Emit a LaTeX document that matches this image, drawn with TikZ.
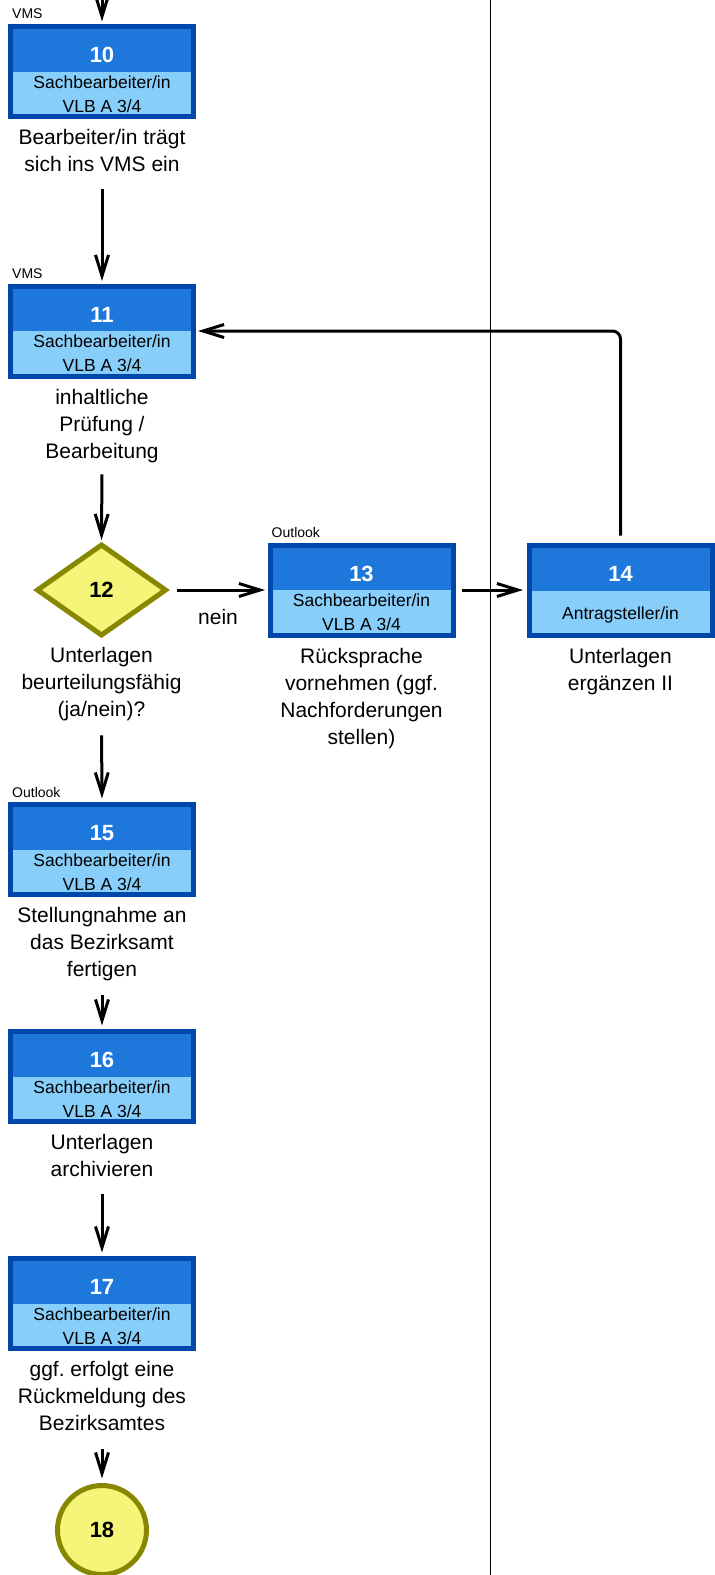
\documentclass[tikz,border=0pt]{standalone}
\usepackage{fontspec}
\setmainfont{Liberation Sans}
\usetikzlibrary{arrows.meta,shapes.geometric}
\frenchspacing

\definecolor{boxborder}{HTML}{0047AB}
\definecolor{boxdark}{HTML}{1E78DC}
\definecolor{boxlight}{HTML}{87CEFA}
\definecolor{decfill}{HTML}{F5F57A}
\definecolor{decborder}{HTML}{878700}

\tikzset{
  taskframe/.style={rectangle, draw=boxborder, fill=boxdark, line width=5pt,
    minimum width=183pt, minimum height=90pt, inner sep=0pt, outer sep=0pt},
  tasknum/.style={text=white, font=\fontsize{22}{24}\selectfont\bfseries, inner sep=0pt},
  taskrole/.style={text=black, font=\fontsize{17.5}{24}\selectfont, align=center, inner sep=0pt},
  toollabel/.style={font=\fontsize{14}{16}\selectfont, anchor=west, inner sep=0pt},
  desc/.style={font=\fontsize{21}{27}\selectfont, align=center, inner sep=0pt, anchor=north},
  flow/.style={line width=3pt, -{Straight Barb[length=21pt,width=13pt]}},
  decision/.style={diamond, draw=decborder, fill=decfill, line width=5pt,
    minimum width=128pt, minimum height=90pt, inner sep=0pt, outer sep=0pt,
    font=\fontsize{22}{24}\selectfont\bfseries},
  terminal/.style={circle, draw=decborder, fill=decfill, line width=5pt,
    minimum size=89pt, inner sep=0pt, outer sep=0pt,
    font=\fontsize{22}{24}\selectfont\bfseries},
  lane/.style={line width=1pt, black}
}

% task box: name, centre, number, role
\newcommand\taskbox[4]{%
  \node[taskframe] (#1) at (#2) {};
  \fill[boxlight] (#1.west) rectangle (#1.south east);
  \draw[boxborder, line width=5pt] (#1.south west) rectangle (#1.north east);
  \node[tasknum] (#1num) at ([yshift=16.5pt]#1.center) {#3};
  \node[taskrole] (#1role) at ([yshift=-22.5pt]#1.center) {#4};
}

\begin{document}
\begin{tikzpicture}[x=1pt,y=-1pt]
\useasboundingbox[fill=white] (0,0) rectangle (715,1575);

% lane separator
\draw[lane] (490,0) -- (490,1575);

% tasks
\taskbox{b10}{102,71.5}{10}{Sachbearbeiter/in\\VLB A 3/4}
\taskbox{b11}{102,331}{11}{Sachbearbeiter/in\\VLB A 3/4}
\taskbox{b13}{361.5,590}{13}{Sachbearbeiter/in\\VLB A 3/4}
\taskbox{b14}{620.5,590.5}{14}{}
\node[taskrole] (b14role) at ([yshift=-24pt]b14.center) {Antragsteller/in};
\taskbox{b15}{102,849.5}{15}{Sachbearbeiter/in\\VLB A 3/4}
\taskbox{b16}{102,1076.5}{16}{Sachbearbeiter/in\\VLB A 3/4}
\taskbox{b17}{102,1303.5}{17}{Sachbearbeiter/in\\VLB A 3/4}

\node[decision] (d12) at (101.5,590) {12};
\node[terminal] (c18) at (102,1530) {18};

% tool labels
\node[toollabel] (tool10) at ([xshift=1.5pt,yshift=12.5pt]b10.north west) {VMS};
\node[toollabel] (tool11) at ([xshift=1.5pt,yshift=12.5pt]b11.north west) {VMS};
\node[toollabel] (tool13) at ([xshift=1.5pt,yshift=12.5pt]b13.north west) {Outlook};
\node[toollabel] (tool15) at ([xshift=1.5pt,yshift=12.5pt]b15.north west) {Outlook};

% descriptions
\node[desc] (t10) at ([yshift=-13pt]b10.south) {Bearbeiter/in trägt\\sich ins VMS ein};
\node[desc] (t11) at ([yshift=-13pt]b11.south) {inhaltliche\\Prüfung /\\Bearbeitung};
\node[desc] (t12) at ([yshift=-12.5pt]d12.south) {Unterlagen\\beurteilungsfähig\\(ja/nein)?};
\node[desc] (t13) at ([yshift=-13pt]b13.south) {Rücksprache\\vornehmen (ggf.\\Nachforderungen\\stellen)};
\node[desc] (t14) at ([yshift=-13pt]b14.south) {Unterlagen\\ergänzen II};
\node[desc] (t15) at ([yshift=-13pt]b15.south) {Stellungnahme an\\das Bezirksamt\\fertigen};
\node[desc] (t16) at ([yshift=-13pt]b16.south) {Unterlagen\\archivieren};
\node[desc] (t17) at ([yshift=-13pt]b17.south) {ggf. erfolgt eine\\Rückmeldung des\\Bezirksamtes};

\node[font=\fontsize{21}{27}\selectfont, inner sep=0pt] (nolabel) at (218,617) {nein};

% connectors
\coordinate (entry) at (102,0);
\draw[flow, shorten >=5pt] (entry) -- (b10.north);
\draw[flow, shorten <=16.5pt, shorten >=5pt] (t10.south) -- (b11.north);
\draw[flow, shorten <=11.5pt, shorten >=5pt] (t11.south) -- (d12.north);
\draw[flow, shorten <=11.5pt, shorten >=5pt] (d12.east) -- (b13.west);
\draw[flow, shorten <=9pt, shorten >=6pt] (b13.east) -- (b13.east -| b14.west);
\draw[flow, rounded corners=8pt, shorten <=10pt, shorten >=4.5pt]
  (b14.north) -- (b14.north |- b11.east) -- (b11.east);
\draw[flow, shorten <=14pt, shorten >=6pt] (t12.south) -- (b15.north);
\draw[flow, shorten <=14pt, shorten >=6pt] (t15.south) -- (b16.north);
\draw[flow, shorten <=16.5pt, shorten >=6pt] (t16.south) -- (b17.north);
\draw[flow, shorten <=17.5pt, shorten >=7pt] (t17.south) -- (c18.north);
\end{tikzpicture}
\end{document}
